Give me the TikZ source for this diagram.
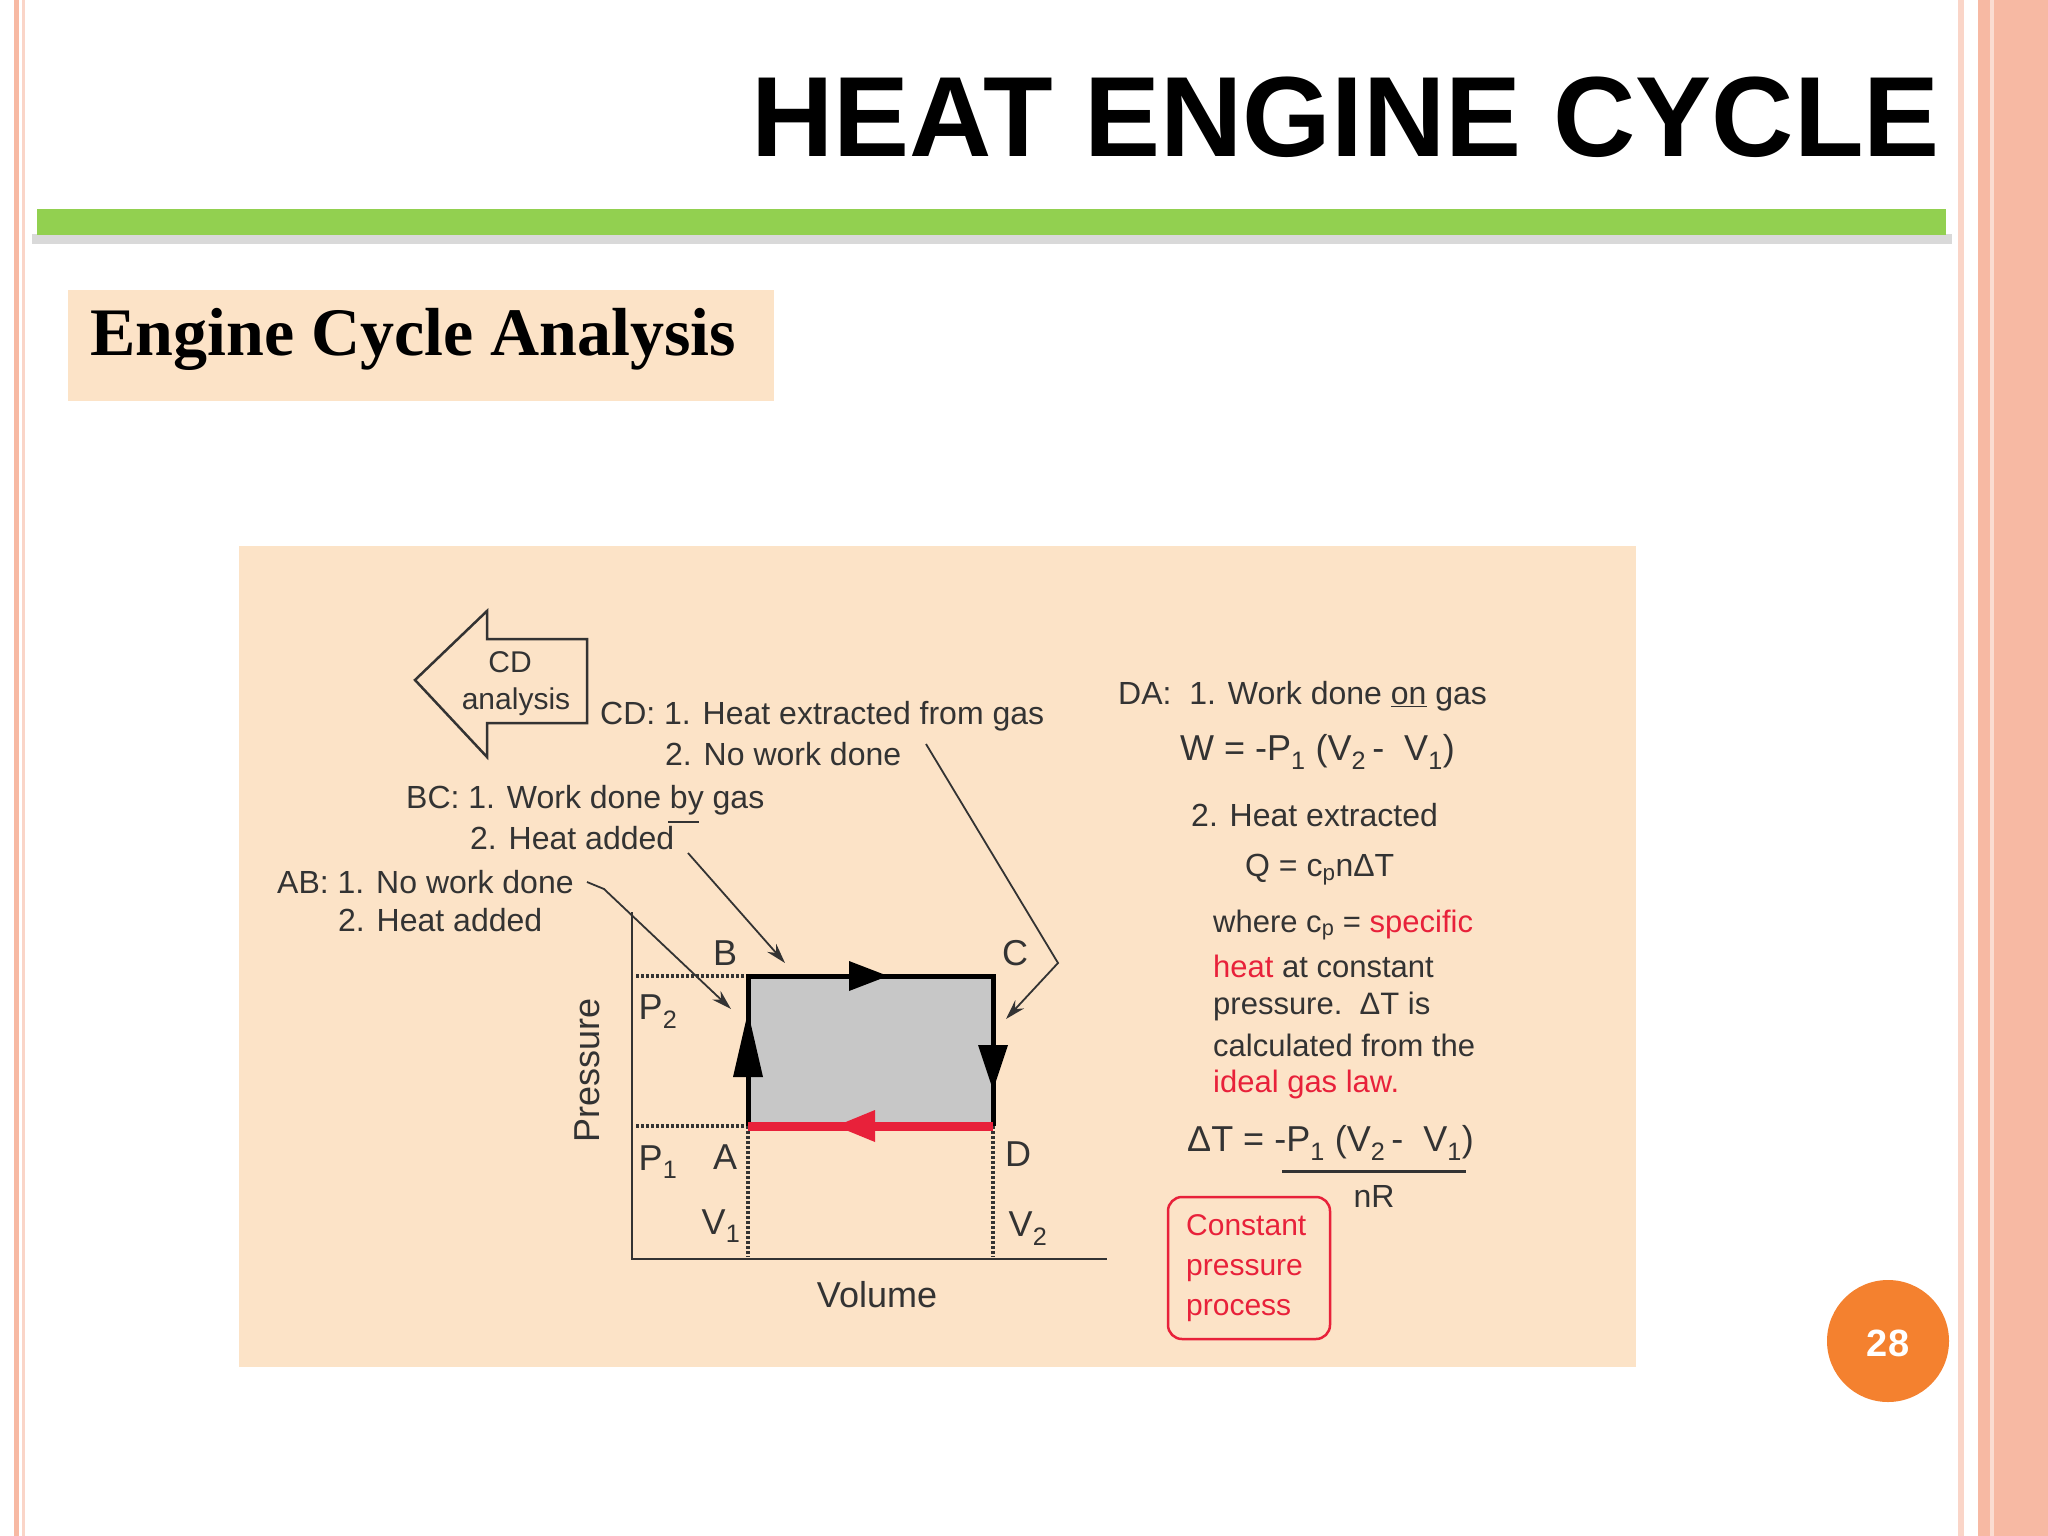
\documentclass[tikz,border=0pt]{standalone}
\usepackage{fontspec}
\setmainfont{Liberation Sans}
\newfontfamily\serifb{Liberation Serif}
\usetikzlibrary{arrows.meta}
\definecolor{panel}{HTML}{FCE3C7}
\definecolor{salm}{HTML}{F7B9A3}
\definecolor{gbar}{HTML}{92D050}
\definecolor{dtxt}{HTML}{333333}
\definecolor{rd}{HTML}{E8213A}
\definecolor{org}{HTML}{F4812F}
\tikzset{
 lbl/.style={font=\fontsize{32}{36}\selectfont, text=dtxt, inner sep=0pt, anchor=west},
 big/.style={font=\fontsize{36}{40}\selectfont, text=dtxt, inner sep=0pt},
 redtxt/.style={lbl, text=rd},
 pt/.style={-{Stealth[length=20pt,width=12pt]}, line width=1.8pt, dtxt},
 dots/.style={dash pattern=on 2.5pt off 2.5pt, line width=4pt, dtxt},
}
\begin{document}
\begin{tikzpicture}[x=1pt,y=-1pt]
\useasboundingbox (0,0) rectangle (2048,1536);
\fill[white] (0,0) rectangle (2048,1536);
% borders
\fill[salm] (14,0) rectangle (19,1536);
\fill[salm!60] (22,0) rectangle (25,1536);
\fill[salm!60] (1958,0) rectangle (1964,1536);
\fill[salm] (1978,0) rectangle (2048,1536);
\fill[salm!50] (1990,0) rectangle (1994,1536);
% title
\node[anchor=base east, font=\fontsize{114}{118}\selectfont\bfseries, inner sep=0pt] (title) at (1940,157) {HEAT ENGINE CYCLE};
\fill[black!15] (32,234) rectangle (1952,244);
\fill[gbar] (37,209) rectangle (1946,235);
% subtitle
\fill[panel] (68,290) rectangle (774,401);
\node[anchor=base west, font=\serifb\fontsize{68}{72}\selectfont\bfseries, inner sep=0pt] (sub) at (90,355) {Engine Cycle Analysis};
% panel
\fill[panel] (239,546) rectangle (1636,1367);
% page number
\fill[org] (1888,1341) circle (61);
\node[font=\fontsize{38}{40}\selectfont\bfseries, text=white] (pg) at (1888,1343) {28};
% axes
\coordinate (ytop) at (632,912);
\coordinate (orig) at (632,1259);
\coordinate (xend) at (1107,1259);
\draw[line width=2.5pt, dtxt] (ytop) -- (orig) -- (xend);
% box
\coordinate (A) at (748,1126);
\coordinate (B) at (748,976);
\coordinate (C) at (993,976);
\coordinate (D) at (993,1126);
\fill[black!22] (A) rectangle (C);
\draw[dots] (636,976) -- (B);
\draw[dots] (636,1126) -- (A);
\draw[dots] (A) -- (748,1257);
\draw[dots] (D) -- (993,1257);
\draw[line width=5pt, black] (A) -- (B) -- (C) -- (D);
\draw[line width=9pt, rd] (D) -- (A);
\fill[black] (849,961) -- (888,976) -- (849,991) -- cycle;
\fill[black] (733,1077) -- (748,1012) -- (763,1077) -- cycle;
\fill[black] (978,1045) -- (993,1090) -- (1008,1045) -- cycle;
\fill[rd] (875,1110) -- (836,1126) -- (875,1142) -- cycle;
% labels on chart
\node[big] (lB) at (725,953) {B};
\node[big] (lC) at (1015,953) {C};
\node[big] (lA) at (725,1157) {A};
\node[big] (lD) at (1018,1154) {D};
\node[big] (lP2) at (658,1012) {P\textsubscript{2}};
\node[big] (lP1) at (658,1162) {P\textsubscript{1}};
\node[big] (lV1) at (721,1226) {V\textsubscript{1}};
\node[big] (lV2) at (1028,1229) {V\textsubscript{2}};
\node[big, rotate=90] (press) at (587,1070) {Pressure};
\node[big] (vol) at (877,1295) {Volume};
% CD arrow shape
\draw[line width=2.5pt, dtxt, fill=panel] (415,680) -- (487,611) -- (487,639) -- (587,639) -- (587,723) -- (487,723) -- (487,757) -- cycle;
\node[lbl, anchor=center, font=\fontsize{30}{34}\selectfont] (cd1) at (510,662) {CD};
\node[lbl, anchor=center, font=\fontsize{30}{34}\selectfont] (cd2) at (516,702) {analysis};
% texts
\node[lbl] (t1) at (600,716) {CD: 1. Heat extracted from gas};
\node[lbl] (t2) at (665,754) {2. No work done};
\node[lbl] (t3) at (406,800) {BC: 1. Work done by gas};
\node[lbl] (t4) at (470,838) {2. Heat added};
\node[lbl] (t5) at (277,882) {AB: 1. No work done};
\node[lbl] (t6) at (338,920) {2. Heat added};
% pointers
\coordinate (ab0) at (587,882);
\coordinate (ab1) at (604,889);
\coordinate (abE) at (731,1009);
\draw[pt] (ab0) -- (ab1) -- (abE);
\coordinate (bc0) at (668,822);
\coordinate (bc1) at (699,822);
\draw[line width=2pt, dtxt] (bc0) -- (bc1);
\coordinate (bcS) at (688,853);
\coordinate (bcE) at (785,963);
\draw[pt] (bcS) -- (bcE);
\coordinate (cd0) at (926,744);
\coordinate (cd1p) at (1058,963);
\coordinate (cdE) at (1006,1019);
\draw[pt] (cd0) -- (cd1p) -- (cdE);
% DA text
\node[lbl] (d1) at (1118,696) {DA:\ \ 1. Work done \underline{on} gas};
\node[lbl, font=\fontsize{36}{40}\selectfont] (d2) at (1180,752) {W = -P\textsubscript{1} (V\textsubscript{2}\,-\ \ V\textsubscript{1})};
\node[lbl] (d3) at (1191,815) {2. Heat extracted};
\node[lbl] (d4) at (1245,870) {Q = c\textsubscript{p}nΔT};
\node[lbl, font=\fontsize{31}{35}\selectfont] (d5) at (1213,925) {where c\textsubscript{p} = \textcolor{rd}{specific}};
\node[lbl, font=\fontsize{31}{35}\selectfont] (d6) at (1213,966) {\textcolor{rd}{heat} at constant};
\node[lbl, font=\fontsize{31}{35}\selectfont] (d7) at (1213,1006) {pressure.\ \ ΔT is};
\node[lbl, font=\fontsize{31}{35}\selectfont] (d8) at (1213,1045) {calculated from the};
\node[lbl, font=\fontsize{31}{35}\selectfont, text=rd] (d9) at (1213,1084) {ideal gas law.};
\node[lbl, font=\fontsize{36}{40}\selectfont] (d10) at (1187,1143) {ΔT = -P\textsubscript{1} (V\textsubscript{2}\,-\ \ V\textsubscript{1})};
\coordinate (fr0) at (1282,1171);
\coordinate (fr1) at (1466,1171);
\draw[line width=3pt, dtxt] (fr0) -- (fr1);
\node[lbl, anchor=center] (d11) at (1374,1196) {nR};
\node[draw=rd, line width=2.5pt, rounded corners=14pt, minimum width=162pt, minimum height=142pt] (cbox) at (1249,1268) {};
\node[redtxt, align=left, font=\fontsize{30}{40}\selectfont] (ctext) at (1186,1268) {Constant\\pressure\\process};
\end{tikzpicture}
\end{document}
